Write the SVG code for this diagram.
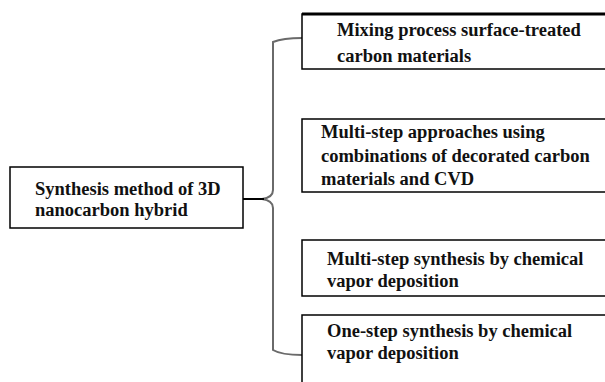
<svg xmlns="http://www.w3.org/2000/svg" width="605" height="382" viewBox="0 0 605 382">
<style>
.box{fill:#fff;stroke:#000;stroke-width:1.5}
.t{font-family:"Liberation Serif","Times New Roman",serif;font-size:18.5px;font-weight:bold;fill:#111}
.c{fill:none;stroke:#6a6a6a;stroke-width:2}
</style>
<rect width="605" height="382" fill="#fff"/>
<g id="connectors">
<path class="c" d="M302,38 C285,38 278,40 273,42 L273,190 C273,195 270,198 262,199 C270,200 273,203 273,208 L273,350 C278,353 285,355 302,355"/>
<path d="M243,199 L264,199" fill="none" stroke="#000" stroke-width="2"/>
</g>
<g id="root">
<rect class="box" x="10" y="167" width="233" height="61"/>
<text class="t" x="35" y="195">Synthesis method of 3D</text>
<text class="t" x="35" y="216">nanocarbon hybrid</text>
</g>
<g id="n1">
<rect class="box" x="302" y="14" width="310" height="55"/>
<line x1="302" y1="14" x2="605" y2="14" stroke="#000" stroke-width="3"/>
<text class="t" x="337" y="36">Mixing process surface-treated</text>
<text class="t" x="337" y="62">carbon materials</text>
</g>
<g id="n2">
<rect class="box" x="302" y="119" width="310" height="73"/>
<text class="t" x="321" y="138">Multi-step approaches using</text>
<text class="t" x="321" y="162">combinations of decorated carbon</text>
<text class="t" x="321" y="185">materials and CVD</text>
</g>
<g id="n3">
<rect class="box" x="302" y="240" width="310" height="56"/>
<text class="t" x="327" y="265">Multi-step synthesis by chemical</text>
<text class="t" x="327" y="287">vapor deposition</text>
</g>
<g id="n4">
<rect class="box" x="302" y="315" width="310" height="80"/>
<text class="t" x="327" y="337">One-step synthesis by chemical</text>
<text class="t" x="327" y="359">vapor deposition</text>
</g>
</svg>
